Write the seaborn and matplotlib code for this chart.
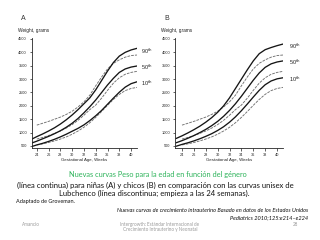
import seaborn as sns
import pandas as pd
import matplotlib.pyplot as plt

# gestational age (weeks)
weeks_new = [23, 24, 25, 26, 27, 28, 29, 30, 31, 32, 33, 34, 35, 36, 37, 38, 39, 40, 41]
weeks_lub = [24, 25, 26, 27, 28, 29, 30, 31, 32, 33, 34, 35, 36, 37, 38, 39, 40, 41]

# new curves, girls (A)
girls_10 = [470, 540, 600, 670, 750, 840, 940, 1050, 1160, 1290, 1450, 1630, 1830, 2060, 2290, 2510, 2700, 2830, 2900]
girls_50 = [600, 680, 770, 860, 960, 1070, 1200, 1350, 1530, 1740, 1970, 2220, 2500, 2780, 3030, 3250, 3380, 3450, 3490]
girls_90 = [740, 850, 950, 1060, 1180, 1320, 1480, 1660, 1860, 2080, 2300, 2600, 2950, 3300, 3620, 3860, 4000, 4090, 4150]

# new curves, boys (B)
boys_10 = [490, 560, 620, 690, 770, 860, 960, 1080, 1220, 1390, 1590, 1820, 2070, 2330, 2580, 2790, 2930, 3010, 3050]
boys_50 = [620, 700, 790, 890, 1000, 1120, 1260, 1420, 1610, 1830, 2080, 2360, 2660, 2960, 3230, 3440, 3570, 3640, 3680]
boys_90 = [780, 880, 990, 1110, 1240, 1390, 1560, 1760, 2000, 2300, 2650, 3000, 3350, 3680, 3950, 4100, 4180, 4250, 4310]

# Lubchenco unisex curves (dashed)
lub_10 = [540, 580, 630, 690, 760, 840, 940, 1060, 1200, 1370, 1570, 1790, 2020, 2240, 2430, 2570, 2650, 2690]
lub_50 = [760, 820, 890, 970, 1060, 1170, 1300, 1460, 1650, 1860, 2030, 2290, 2580, 2850, 3050, 3180, 3250, 3290]
lub_90 = [1280, 1350, 1420, 1500, 1580, 1680, 1800, 1960, 2150, 2400, 2750, 3080, 3380, 3590, 3720, 3820, 3880, 3900]

pct_labels = ["10", "50", "90"]
x_ticks = [24, 26, 28, 30, 32, 34, 36, 38, 40]
y_ticks = [500, 1000, 1500, 2000, 2500, 3000, 3500, 4000, 4500]

W, H = 320, 240


def px_axes(fig, left, top, right, bottom):
    return fig.add_axes([left / W, 1 - bottom / H, (right - left) / W, (bottom - top) / H])


def panel(ax, new_curves, letter, xlim, lab_x):
    for vals in [lub_10, lub_50, lub_90]:
        sns.lineplot(x=weeks_lub, y=vals, ax=ax, color="#707070", lw=0.65,
                     linestyle=(0, (3, 1.2)))
    for vals in new_curves:
        sns.lineplot(x=weeks_new, y=vals, ax=ax, color="#151515", lw=0.95)
    ax.set_xlim(*xlim)
    ax.set_ylim(425, 4540)
    ax.set_xticks(x_ticks)
    ax.set_yticks(y_ticks)
    ax.tick_params(labelsize=2.8, length=1.8, width=0.5, pad=1.5, colors="#222222")
    sns.despine(ax=ax)
    for s in ["left", "bottom"]:
        ax.spines[s].set_linewidth(0.6)
    ax.set_xlabel("Gestational Age, Weeks", fontsize=3.2, labelpad=1)
    ax.set_ylabel("")
    for lab, vals in zip(pct_labels, new_curves):
        ax.text(lab_x, vals[-1] - 60 if lab != "90" else vals[-1] - 100,
                lab + r"$^{\mathrm{th}}$", fontsize=4, ha="left", va="center",
                clip_on=False, color="#222222")
    ax.text(-0.10, 1.18, letter, transform=ax.transAxes, fontsize=5,
            va="center", color="#333333")
    ax.text(-0.13, 1.065, "Weight, grams", transform=ax.transAxes, fontsize=3.4,
            va="center", color="#222222")


def main():
    sns.set_style("ticks")
    plt.rcParams["font.family"] = ["Liberation Sans", "DejaVu Sans"]
    fig = plt.figure(figsize=(3.2, 2.4), dpi=100)

    axA = px_axes(fig, 31.5, 37.9, 137, 148)
    panel(axA, [girls_10, girls_50, girls_90], "A", (23.1, 41.0), 41.6)
    axB = px_axes(fig, 175, 37.9, 283, 148)
    panel(axB, [boys_10, boys_50, boys_90], "B", (22.82, 41.0), 42.0)

    slide = ["Lato", "DejaVu Sans"]
    fig.text(158 / W, 1 - 175 / H, "Nuevas curvas Peso para la edad en función del género",
             ha="center", va="center", fontsize=5.3, color="#2db35a", family=slide)
    fig.text(155 / W, 1 - 185 / H,
             "(línea continua) para niñas (A) y chicos (B) en comparación con las curvas unisex de",
             ha="center", va="center", fontsize=5.5, color="#111111", family=slide)
    fig.text(154 / W, 1 - 193.5 / H,
             "Lubchenco (línea discontinua; empieza a las 24 semanas).",
             ha="center", va="center", fontsize=5.5, color="#111111", family=slide)
    fig.text(16 / W, 1 - 201 / H, "Adaptado de Groveman.", ha="left", va="center",
             fontsize=4, color="#111111", family=slide)
    fig.text(308 / W, 1 - 210.5 / H,
             "Nuevas curvas de crecimiento intrauterino Basado en datos de los Estados Unidos",
             ha="right", va="center", fontsize=4.1, style="italic", color="#111111", family=slide)
    fig.text(308 / W, 1 - 218 / H, "Pediatrics 2010;125:e214–e224",
             ha="right", va="center", fontsize=4.1, style="italic", color="#111111", family=slide)
    fig.text(22 / W, 1 - 224.5 / H, "Amancio", ha="left", va="center",
             fontsize=3.3, color="#9a9a9a", family=slide)
    fig.text(160 / W, 1 - 224.5 / H, "Intergrowth: Estándar Internacional de",
             ha="center", va="center", fontsize=3.3, color="#9a9a9a", family=slide)
    fig.text(160 / W, 1 - 230 / H, "Crecimiento Intrauterino y Neonatal",
             ha="center", va="center", fontsize=3.3, color="#9a9a9a", family=slide)
    fig.text(295 / W, 1 - 224.5 / H, "28", ha="center", va="center",
             fontsize=3.3, color="#9a9a9a", family=slide)

    plt.savefig("out.png", dpi=100)


if __name__ == "__main__":
    main()
